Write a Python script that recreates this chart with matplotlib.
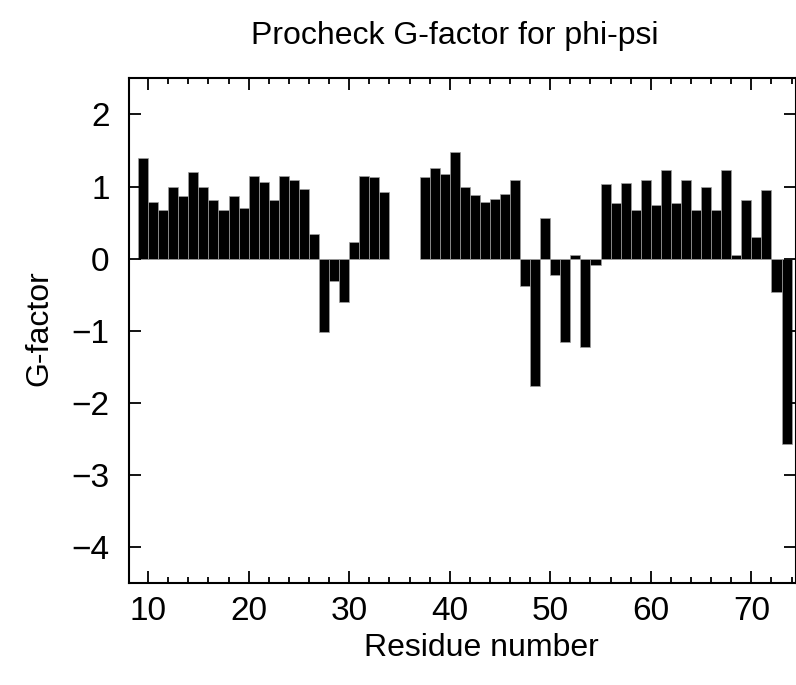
import matplotlib
matplotlib.use('Agg')
import matplotlib.pyplot as plt
from matplotlib.ticker import MultipleLocator

plt.rcParams['font.family'] = ['Liberation Sans', 'DejaVu Sans']

# Residue numbers (gap at 34-36) and Procheck G-factor values
residues = list(range(9, 34)) + list(range(37, 74))
gfactor = [1.39, 0.78, 0.67, 0.99, 0.87, 1.20, 1.00, 0.81, 0.67, 0.87,
           0.70, 1.14, 1.06, 0.82, 1.14, 1.09, 0.97, 0.34, -1.01, -0.31,
           -0.60, 0.23, 1.15, 1.13, 0.92,
           1.13, 1.26, 1.17, 1.48, 0.99, 0.88, 0.78, 0.83, 0.90, 1.09,
           -0.38, -1.76, 0.57, -0.22, -1.15, 0.05, -1.23, -0.09,
           1.04, 0.77, 1.05, 0.67, 1.09, 0.74, 1.23, 0.77, 1.09, 0.67,
           1.00, 0.67, 1.23, 0.05, 0.81, 0.30, 0.95, -0.46, -2.57]

x_major = [10, 20, 30, 40, 50, 60, 70]
y_major = [2, 1, 0, -1, -2, -3, -4]

fig = plt.figure(figsize=(7.96, 6.85), dpi=100)
ax = fig.add_axes([129 / 796, (685 - 583.3) / 685, (796 - 129) / 796 - 0.0005, (583.3 - 78.3) / 685])

ax.bar(residues, gfactor, width=1.0, align='edge', color='black',
       edgecolor='#a0a0a0', linewidth=0.5)

ax.set_xlim(8.1, 74.4)
ax.set_ylim(-4.5, 2.5)
ax.set_xticks(x_major)
ax.set_yticks(y_major)
ax.xaxis.set_minor_locator(MultipleLocator(2))

ax.tick_params(which='both', direction='in', top=True, right=True,
               labelsize=24, width=1.3, colors='black')
ax.tick_params(which='major', length=8.5)
ax.tick_params(which='minor', length=4.3)
ax.tick_params(axis='x', pad=9)
ax.tick_params(axis='y', pad=14)
for s in ax.spines.values():
    s.set_linewidth(1.5)

fig.text(0.571, 1 - 36 / 685, 'Procheck G-factor for phi-psi', ha='center', va='center', fontsize=23)
fig.text(0.605, 1 - 648 / 685, 'Residue number', ha='center', va='center', fontsize=23)
fig.text(0.05, 1 - 328 / 685, 'G-factor', ha='center', va='center', rotation=90, fontsize=23)

fig.savefig('out.png', dpi=100)
